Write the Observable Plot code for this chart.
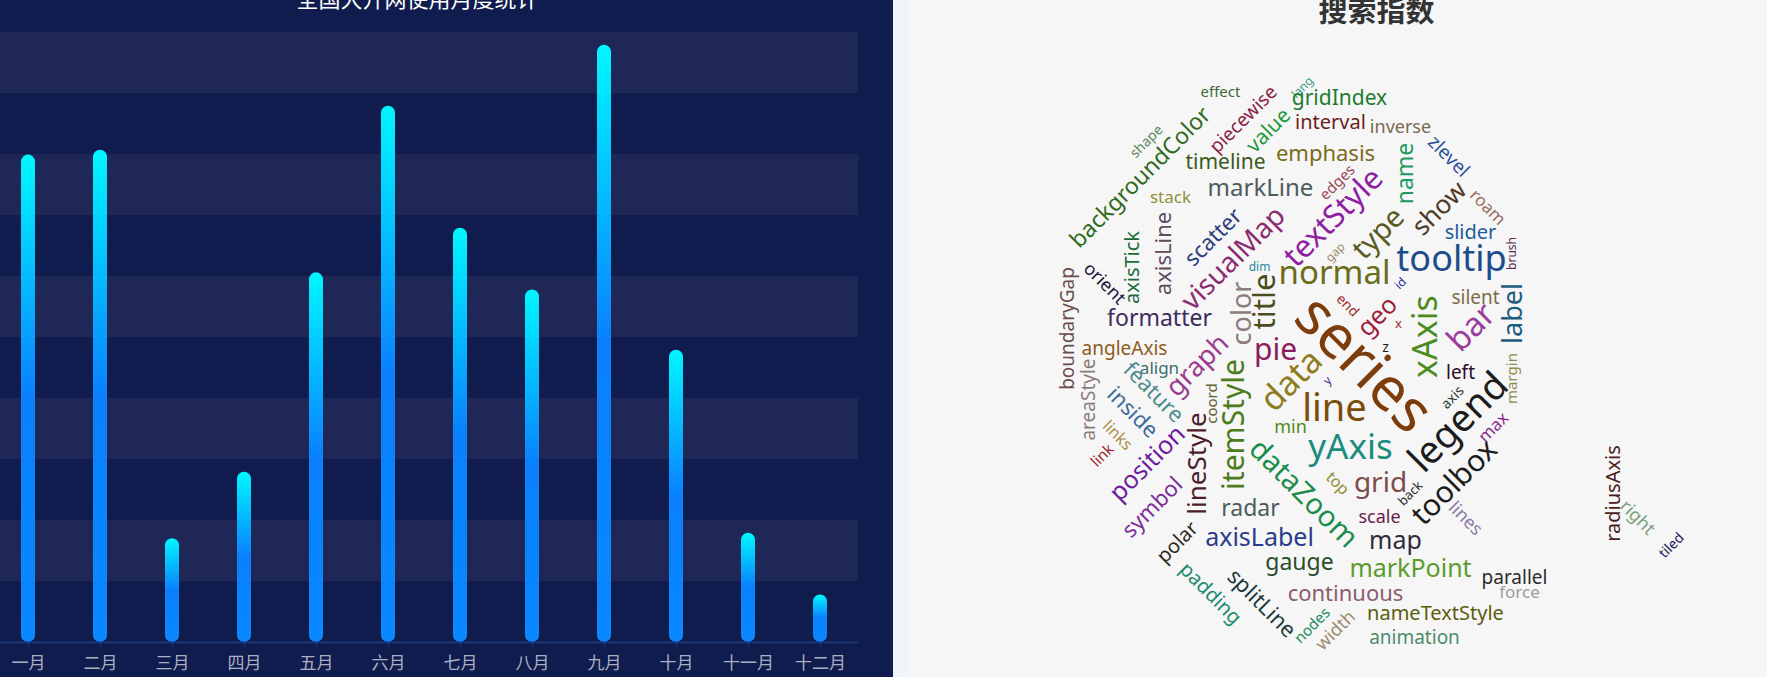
<!DOCTYPE html>
<html><head><meta charset="utf-8">
<script src="https://cdn.jsdelivr.net/npm/d3@7"></script>
<script src="https://cdn.jsdelivr.net/npm/@observablehq/plot@0.6"></script>
<style>
html,body{margin:0;padding:0;width:1767px;height:677px;overflow:hidden;background:#eef6fc;}
#left{position:absolute;left:0;top:0;width:893px;height:677px;background:#111c4e;overflow:hidden;}
#left svg{position:absolute;left:-10px;top:0;}
#right{position:absolute;left:908px;top:0;width:859px;height:677px;background:#f6f6f6;overflow:hidden;}
#right svg{position:absolute;left:0;top:0;}
</style></head><body>
<div id="left"></div><div id="right"></div>
<script>
// ---- Bar chart data ----
const barTitle = "全国大开网使用月度统计";
const months = ["一月","二月","三月","四月","五月","六月","七月","八月","九月","十月","十一月","十二月"];
const monthValues = [799, 807, 170, 279, 606, 879, 679, 578, 979, 479, 179, 78];
const yTicks = [0,100,200,300,400,500,600,700,800,900,1000];

// ---- Word cloud data ----
const cloudTitle = "搜索指数";
const words = [
 "effect","lang","gridIndex","piecewise","shape","value","interval","inverse","zlevel","backgroundColor",
 "timeline","emphasis","name","markLine","stack","edges","textStyle","show","type","axisTick",
 "axisLine","scatter","visualMap","dim","gap","normal","tooltip","orient","boundaryGap","color",
 "title","formatter","geo","end","id","x","series","xAxis","bar","label",
 "silent","slider","roam","brush","left","margin","axis","legend","max","toolbox",
 "back","lines","radiusAxis","right","tiled","parallel","force","angleAxis","areaStyle","align",
 "feature","graph","inside","links","link","position","lineStyle","coord","itemStyle","pie",
 "data","z","y","line","min","yAxis","dataZoom","top","grid","radar",
 "symbol","scale","polar","axisLabel","map","gauge","markPoint","padding","splitLine","continuous",
 "nameTextStyle","nodes","width","animation"];
const wordWeight = [
 15,12,21,19,14,21,20,18,19,23,
 21,22,23,24,17,15,31,26,29,20,
 22,22,28,12,12,33,36,18,19,27,
 31,23,25,14,12,13,60,34,33,27,
 19,20,17,12,19,15,14,38,17,30,
 13,18,20,18,14,19,17,19,19,17,
 22,27,22,16,15,25,26,15,30,30,
 34,14,12,38,18,35,29,16,28,23,
 22,18,20,25,25,23,25,20,22,22,
 20,15,18,19];
// layout of the cloud (page coordinates of each word centre, angle)
const wordX = [
 1220,1302,1339,1243,1146,1268,1330,1400,1448,1140,
 1225,1325,1405,1260,1170,1337,1333,1439,1378,1132,
 1163,1213,1233,1259,1335,1334,1451,1104,1067,1242,
 1265,1159,1377,1347,1400,1398,1363,1426,1471,1513,
 1475,1470,1487,1512,1460,1512,1452,1458,1493,1454,
 1410,1465,1613,1637,1671,1514,1519,1124,1088,1159,
 1153,1197,1132,1117,1102,1147,1197,1212,1234,1275,
 1291,1385,1327,1334,1290,1350,1303,1337,1380,1250,
 1152,1379,1177,1259,1395,1299,1410,1210,1261,1345,
 1435,1312,1335,1414];
const wordY = [
 92,87,98,119,141,130,122,127,156,177,
 162,153,173,188,197,182,217,208,233,267,
 253,237,258,267,252,273,259,283,328,313,
 301,318,316,305,283,323,364,336,327,313,
 297,232,207,253,372,378,397,422,427,482,
 493,518,493,517,545,577,592,348,399,368,
 392,365,412,435,455,463,463,403,424,350,
 380,347,380,408,427,447,493,483,483,508,
 507,517,542,537,540,562,568,593,603,593,
 613,625,630,637];
const wordAngle = [
 0,-45,0,-45,-45,-45,0,0,45,-45,
 0,0,-90,0,0,-45,-45,-45,-45,-90,
 -90,-45,-45,0,-45,0,0,45,-90,-90,
 -90,0,-45,45,-45,0,45,-90,-45,-90,
 0,0,45,-90,0,-90,-45,-45,-45,-45,
 -45,45,-90,45,-45,0,0,0,-90,0,
 45,-45,45,45,-45,-45,-90,-90,-90,0,
 -45,0,-45,0,0,0,45,45,0,0,
 -45,0,-45,0,0,0,0,45,45,0,
 0,-45,-45,0];
const wordColor = [
 "#3b6b35","#3a9a8c","#1f7a2e","#8c1f45","#5d8a5c","#1e9a3c","#6b1d1d","#7a6a50","#2a4f9a","#2f6a20",
 "#3d5a1c","#7a6b1a","#1f9a5e","#4e5c5c","#8e9040","#9c4a5c","#8e1fa0","#4d3b2a","#5a5a1e","#1c6a3a",
 "#5b4c5f","#2c3e7e","#8c2c70","#1f8a9c","#a08a6a","#6b6b1c","#1c4c8c","#1c1c3c","#6b4c4c","#8c7c7c",
 "#4c4c1c","#3c2c5c","#9c1c3c","#9c2c2c","#2c2c9c","#9c2c3c","#7c3c0c","#4c8c1c","#9c3c9c","#1c5c7c",
 "#7c6c4c","#1c5c9c","#9c6c5c","#5c2c4c","#2c0c2c","#8c8c4c","#2c3c2c","#1c1c1c","#8c2c8c","#1c1c1c",
 "#2c2c2c","#8c7cac","#4c1c1c","#7ca07c","#1c1c5c","#2c2c2c","#9c9c9c","#8c5c1c","#8c7c7c","#3c6c6c",
 "#4c8c8c","#9c3c8c","#3c6c9c","#ac8c3c","#9c1c2c","#6c1c9c","#4c1c2c","#5c5c2c","#4c7c1c","#8c1c5c",
 "#8c7c1c","#1c1c1c","#4c2c8c","#7c4c0c","#4c8c1c","#1c8c7c","#1c8c4c","#8c8c2c","#7c4c4c","#4c5c5c",
 "#7c2c9c","#6c1c4c","#2c2c1c","#2c3c8c","#2c2c3c","#2c4c2c","#5c9c2c","#1c8c6c","#1c3c3c","#8c5c6c",
 "#5c5c0c","#1c8c5c","#9c8c6c","#4c8c6c"];

// ---------- Left: bar chart ----------
const barData = months.map((m, i) => ({month: m, value: monthValues[i]}));
const bands = d3.range(yTicks.length - 1).map(k => ({y1: yTicks[k], y2: yTicks[k + 1], shade: k % 2 ? "#1e2756" : "#111c4e"}));

const gradientDefs = () => {
  const defs = d3.create("svg:defs");
  const g = defs.append("linearGradient").attr("id", "barGrad")
    .attr("x1", 0).attr("y1", 0).attr("x2", 0).attr("y2", 1);
  g.append("stop").attr("offset", "0%").attr("stop-color", "#00f7ff");
  g.append("stop").attr("offset", "50%").attr("stop-color", "#0a80ff");
  g.append("stop").attr("offset", "100%").attr("stop-color", "#0a88ff");
  return defs.node();
};

const left = Plot.plot({
  width: 868, height: 677,
  marginLeft: 0, marginRight: 0, marginTop: 32, marginBottom: 35,
  style: {background: "transparent", fontFamily: "'Noto Sans CJK SC', sans-serif", overflow: "visible"},
  color: {type: "identity"},
  x: {domain: months, padding: 0, axis: null},
  y: {domain: [0, 1000], axis: null},
  marks: [
    gradientDefs,
    Plot.rect(bands, {y1: "y1", y2: "y2", fill: "shade"}),
    Plot.barY(barData, {x: "month", y: "value", fill: "url(#barGrad)", insetLeft: 29, insetRight: 29, rx: 7}),
    Plot.ruleY([0], {stroke: "#1b3c7a", strokeWidth: 1.5}),
    Plot.axisX({anchor: "bottom", label: null, tickSize: 5, tickPadding: 9, fontSize: 17, stroke: "#1b3c7a", fill: "#aab0c2"}),
    Plot.text([barTitle], {text: d => d, frameAnchor: "top", dx: -7, dy: -26, lineAnchor: "bottom", fontSize: 22, fill: "#ffffff"})
  ]
});
document.getElementById("left").appendChild(left);

// ---------- Right: word cloud ----------
const wordData = words.map((w, i) => ({word: w, weight: wordWeight[i], x: wordX[i], y: wordY[i], angle: wordAngle[i], color: wordColor[i]}));
const sizeScale = d3.scaleLinear().domain([12, 60]).range([12, 60]);

const right = Plot.plot({
  width: 859, height: 677, margin: 0,
  style: {background: "transparent", fontFamily: "'Noto Sans', sans-serif", overflow: "visible"},
  color: {type: "identity"},
  x: {domain: [908, 1767], range: [0, 859], axis: null},
  y: {domain: [0, 677], range: [0, 677], axis: null},
  marks: [
    Plot.text(wordData, {x: "x", y: "y", text: "word", fontSize: d => sizeScale(d.weight), rotate: "angle", fill: "color", textAnchor: "middle", lineAnchor: "middle"}),
    Plot.text([cloudTitle], {text: d => d, frameAnchor: "top-left", dx: 468, dy: 21, textAnchor: "middle", lineAnchor: "bottom", fontSize: 29, fontWeight: "bold", fill: "#333333", fontFamily: "'Noto Sans CJK SC', sans-serif"})
  ]
});
document.getElementById("right").appendChild(right);
</script>
</body></html>
